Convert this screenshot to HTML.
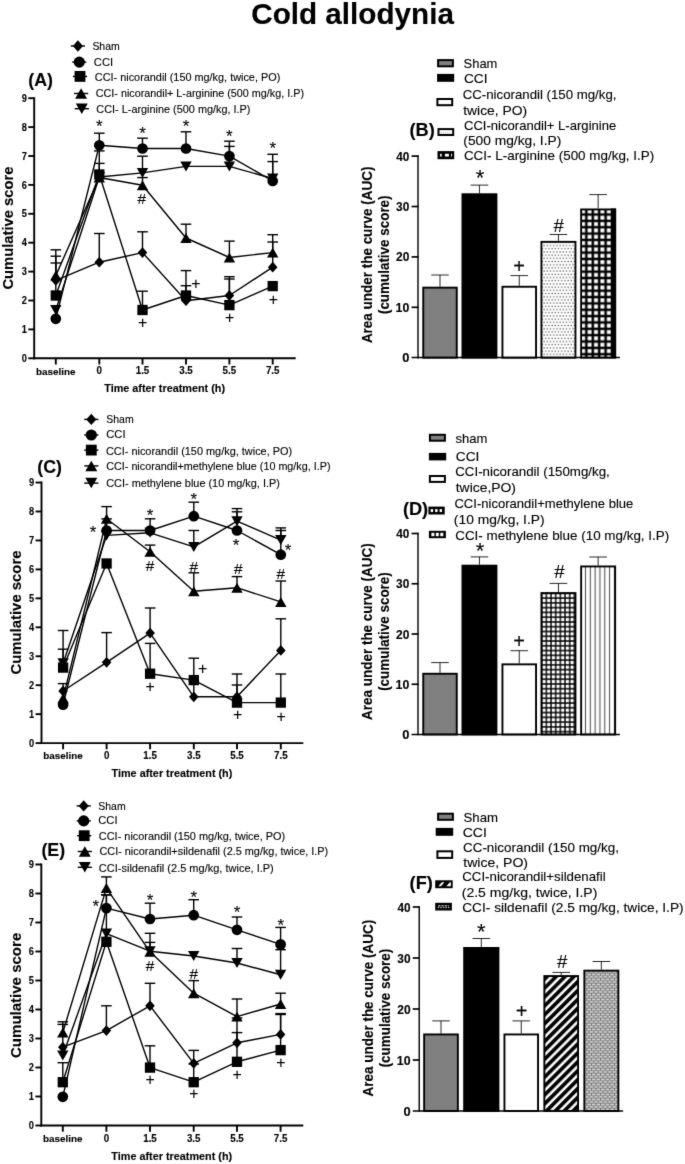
<!DOCTYPE html>
<html lang="en"><head><meta charset="utf-8"><title>Cold allodynia</title>
<style>
html,body{margin:0;padding:0;background:#fff;}
body{width:685px;height:1164px;overflow:hidden;font-family:"Liberation Sans",sans-serif;}
svg{display:block;}
svg text{font-family:"Liberation Sans",sans-serif;fill:#000;stroke:#000;stroke-width:0.12px;}
</style></head><body>
<svg width="685" height="1164" viewBox="0 0 685 1164">
<defs>
<pattern id="pDot" width="3.2" height="6.4" patternUnits="userSpaceOnUse" x="543.2" y="244.6"><rect width="3.2" height="6.4" fill="#fff"/><rect x="0.3" y="0.3" width="1.3" height="1.2" fill="#555"/><rect x="1.9" y="3.5" width="1.3" height="1.2" fill="#555"/></pattern>
<pattern id="pGrid" width="6.42" height="6.35" patternUnits="userSpaceOnUse" x="586.35" y="214.52"><rect width="6.42" height="6.35" fill="#000"/><rect x="1.26" y="1.22" width="3.9" height="3.9" fill="#fff"/></pattern>
<pattern id="pHatch" width="4.67" height="4.77" patternUnits="userSpaceOnUse" x="546.36" y="598.1"><rect width="4.67" height="4.77" fill="#000"/><rect x="0.7" y="0.75" width="3.27" height="3.27" fill="#fff"/></pattern>
<pattern id="pVert" width="4.82" height="8" patternUnits="userSpaceOnUse" x="583.09" y="0"><rect width="4.82" height="8" fill="#fff"/><rect x="1.85" width="1.1" height="8" fill="#555"/></pattern>
<pattern id="pDiag" width="6.3" height="6.3" patternUnits="userSpaceOnUse" patternTransform="rotate(-45)"><rect width="6.3" height="6.3" fill="#000"/><rect y="2.0" width="6.3" height="2.6" fill="#fff"/></pattern>
<pattern id="pBrick" width="4.6" height="5.0" patternUnits="userSpaceOnUse" x="584.5" y="970.6"><rect width="4.6" height="5.0" fill="#6a6a6a"/><rect x="0.5" y="0.6" width="3.6" height="1.3" fill="#fff"/><rect x="-1.8" y="3.1" width="3.6" height="1.3" fill="#fff"/><rect x="2.8" y="3.1" width="3.6" height="1.3" fill="#fff"/></pattern>
</defs>
<filter id="soft" x="0" y="0" width="685" height="1164" filterUnits="userSpaceOnUse" color-interpolation-filters="sRGB"><feConvolveMatrix order="3" kernelMatrix="0.0100 0.0800 0.0100 0.0800 0.6400 0.0800 0.0100 0.0800 0.0100" divisor="1" edgeMode="duplicate" preserveAlpha="true"/></filter>
<rect width="685" height="1164" fill="#fff"/>
<g filter="url(#soft)">
<rect width="685" height="1164" fill="#fff"/>

<text x="251.21" y="24.00" font-size="29.4" font-weight="bold" textLength="202.79" lengthAdjust="spacingAndGlyphs">Cold allodynia</text>
<line x1="34.20" y1="97.25" x2="34.20" y2="359.25" stroke="#000" stroke-width="1.9"/>
<line x1="33.25" y1="358.30" x2="295.70" y2="358.30" stroke="#000" stroke-width="1.9"/>
<line x1="28.30" y1="358.30" x2="34.20" y2="358.30" stroke="#000" stroke-width="1.9"/>
<text x="21.75" y="361.95" font-size="10.9" font-weight="bold" textLength="5.15" lengthAdjust="spacingAndGlyphs">0</text>
<line x1="28.30" y1="329.40" x2="34.20" y2="329.40" stroke="#000" stroke-width="1.9"/>
<text x="21.75" y="333.05" font-size="10.9" font-weight="bold" textLength="5.15" lengthAdjust="spacingAndGlyphs">1</text>
<line x1="28.30" y1="300.50" x2="34.20" y2="300.50" stroke="#000" stroke-width="1.9"/>
<text x="21.75" y="304.15" font-size="10.9" font-weight="bold" textLength="5.15" lengthAdjust="spacingAndGlyphs">2</text>
<line x1="28.30" y1="271.60" x2="34.20" y2="271.60" stroke="#000" stroke-width="1.9"/>
<text x="21.75" y="275.25" font-size="10.9" font-weight="bold" textLength="5.15" lengthAdjust="spacingAndGlyphs">3</text>
<line x1="28.30" y1="242.70" x2="34.20" y2="242.70" stroke="#000" stroke-width="1.9"/>
<text x="21.75" y="246.35" font-size="10.9" font-weight="bold" textLength="5.15" lengthAdjust="spacingAndGlyphs">4</text>
<line x1="28.30" y1="213.80" x2="34.20" y2="213.80" stroke="#000" stroke-width="1.9"/>
<text x="21.75" y="217.45" font-size="10.9" font-weight="bold" textLength="5.15" lengthAdjust="spacingAndGlyphs">5</text>
<line x1="28.30" y1="184.90" x2="34.20" y2="184.90" stroke="#000" stroke-width="1.9"/>
<text x="21.75" y="188.55" font-size="10.9" font-weight="bold" textLength="5.15" lengthAdjust="spacingAndGlyphs">6</text>
<line x1="28.30" y1="156.00" x2="34.20" y2="156.00" stroke="#000" stroke-width="1.9"/>
<text x="21.75" y="159.65" font-size="10.9" font-weight="bold" textLength="5.15" lengthAdjust="spacingAndGlyphs">7</text>
<line x1="28.30" y1="127.10" x2="34.20" y2="127.10" stroke="#000" stroke-width="1.9"/>
<text x="21.75" y="130.75" font-size="10.9" font-weight="bold" textLength="5.15" lengthAdjust="spacingAndGlyphs">8</text>
<line x1="28.30" y1="98.20" x2="34.20" y2="98.20" stroke="#000" stroke-width="1.9"/>
<text x="21.75" y="101.85" font-size="10.9" font-weight="bold" textLength="5.15" lengthAdjust="spacingAndGlyphs">9</text>
<line x1="55.80" y1="358.30" x2="55.80" y2="364.50" stroke="#000" stroke-width="1.9"/>
<text x="55.80" y="374.50" font-size="9.9" font-weight="bold" text-anchor="middle">baseline</text>
<line x1="99.30" y1="358.30" x2="99.30" y2="364.50" stroke="#000" stroke-width="1.9"/>
<text x="96.58" y="374.40" font-size="10.4" font-weight="bold" textLength="5.44" lengthAdjust="spacingAndGlyphs">0</text>
<line x1="142.50" y1="358.30" x2="142.50" y2="364.50" stroke="#000" stroke-width="1.9"/>
<text x="135.71" y="374.40" font-size="10.4" font-weight="bold" textLength="13.59" lengthAdjust="spacingAndGlyphs">1.5</text>
<line x1="186.00" y1="358.30" x2="186.00" y2="364.50" stroke="#000" stroke-width="1.9"/>
<text x="179.21" y="374.40" font-size="10.4" font-weight="bold" textLength="13.59" lengthAdjust="spacingAndGlyphs">3.5</text>
<line x1="229.40" y1="358.30" x2="229.40" y2="364.50" stroke="#000" stroke-width="1.9"/>
<text x="222.61" y="374.40" font-size="10.4" font-weight="bold" textLength="13.59" lengthAdjust="spacingAndGlyphs">5.5</text>
<line x1="272.70" y1="358.30" x2="272.70" y2="364.50" stroke="#000" stroke-width="1.9"/>
<text x="265.91" y="374.40" font-size="10.4" font-weight="bold" textLength="13.59" lengthAdjust="spacingAndGlyphs">7.5</text>
<text x="104.24" y="392.30" font-size="11.0" font-weight="bold" textLength="120.80" lengthAdjust="spacingAndGlyphs" stroke-width="0.3">Time after treatment (h)</text>
<text transform="translate(13.40 289.59) rotate(-90)" x="0" y="0" font-size="15.0" font-weight="bold" textLength="122.92" lengthAdjust="spacingAndGlyphs" stroke-width="0.3">Cumulative score</text>
<text x="40.60" y="85.80" font-size="17.8" font-weight="bold" text-anchor="middle">(A)</text>
<line x1="70.80" y1="46.00" x2="85.00" y2="46.00" stroke="#000" stroke-width="1.4"/>
<path d="M77.90 40.33L82.94 46.00L77.90 51.67L72.86 46.00Z"/>
<text x="92.38" y="49.80" font-size="11.1" textLength="27.38" lengthAdjust="spacingAndGlyphs">Sham</text>
<line x1="72.20" y1="62.10" x2="86.40" y2="62.10" stroke="#000" stroke-width="1.4"/>
<circle cx="79.30" cy="62.10" r="5.62"/>
<text x="93.84" y="65.70" font-size="11.1" textLength="19.29" lengthAdjust="spacingAndGlyphs">CCI</text>
<line x1="72.90" y1="76.40" x2="87.10" y2="76.40" stroke="#000" stroke-width="1.4"/>
<rect x="74.59" y="70.99" width="10.82" height="10.82"/>
<text x="94.86" y="80.50" font-size="11.1" textLength="185.40" lengthAdjust="spacingAndGlyphs">CCI- nicorandil (150 mg/kg, twice, PO)</text>
<line x1="74.00" y1="93.50" x2="88.20" y2="93.50" stroke="#000" stroke-width="1.4"/>
<path d="M81.10 88.25L87.08 98.75L75.11 98.75Z"/>
<text x="95.76" y="97.30" font-size="11.1" textLength="208.22" lengthAdjust="spacingAndGlyphs">CCI- nicorandil+ L-arginine (500 mg/kg, I.P)</text>
<line x1="74.70" y1="108.70" x2="88.90" y2="108.70" stroke="#000" stroke-width="1.4"/>
<path d="M81.80 113.95L87.78 103.45L75.81 103.45Z"/>
<text x="96.36" y="112.80" font-size="11.1" textLength="154.11" lengthAdjust="spacingAndGlyphs">CCI- L-arginine (500 mg/kg, I.P)</text>
<path d="M55.80 280.30 L99.30 262.20 L142.50 252.60 L186.00 300.70 L229.40 295.50 L272.70 267.20" fill="none" stroke="#000" stroke-width="1.4" stroke-linejoin="round"/>
<line x1="55.80" y1="280.30" x2="55.80" y2="249.80" stroke="#000" stroke-width="1.4"/>
<line x1="50.50" y1="249.80" x2="61.10" y2="249.80" stroke="#000" stroke-width="1.4"/>
<line x1="99.30" y1="262.20" x2="99.30" y2="233.50" stroke="#000" stroke-width="1.4"/>
<line x1="94.00" y1="233.50" x2="104.60" y2="233.50" stroke="#000" stroke-width="1.4"/>
<line x1="142.50" y1="252.60" x2="142.50" y2="231.80" stroke="#000" stroke-width="1.4"/>
<line x1="137.20" y1="231.80" x2="147.80" y2="231.80" stroke="#000" stroke-width="1.4"/>
<line x1="186.00" y1="300.70" x2="186.00" y2="285.70" stroke="#000" stroke-width="1.4"/>
<line x1="180.70" y1="285.70" x2="191.30" y2="285.70" stroke="#000" stroke-width="1.4"/>
<line x1="229.40" y1="295.50" x2="229.40" y2="279.00" stroke="#000" stroke-width="1.4"/>
<line x1="224.10" y1="279.00" x2="234.70" y2="279.00" stroke="#000" stroke-width="1.4"/>
<line x1="272.70" y1="267.20" x2="272.70" y2="242.00" stroke="#000" stroke-width="1.4"/>
<line x1="267.40" y1="242.00" x2="278.00" y2="242.00" stroke="#000" stroke-width="1.4"/>
<path d="M55.80 274.90L60.60 280.30L55.80 285.70L51.00 280.30Z"/>
<path d="M99.30 256.80L104.10 262.20L99.30 267.60L94.50 262.20Z"/>
<path d="M142.50 247.20L147.30 252.60L142.50 258.00L137.70 252.60Z"/>
<path d="M186.00 295.30L190.80 300.70L186.00 306.10L181.20 300.70Z"/>
<path d="M229.40 290.10L234.20 295.50L229.40 300.90L224.60 295.50Z"/>
<path d="M272.70 261.80L277.50 267.20L272.70 272.60L267.90 267.20Z"/>
<path d="M55.80 318.80 L99.30 145.30 L142.50 148.50 L186.00 148.50 L229.40 156.10 L272.70 181.00" fill="none" stroke="#000" stroke-width="1.4" stroke-linejoin="round"/>
<line x1="99.30" y1="145.30" x2="99.30" y2="133.20" stroke="#000" stroke-width="1.4"/>
<line x1="94.00" y1="133.20" x2="104.60" y2="133.20" stroke="#000" stroke-width="1.4"/>
<line x1="142.50" y1="148.50" x2="142.50" y2="138.20" stroke="#000" stroke-width="1.4"/>
<line x1="137.20" y1="138.20" x2="147.80" y2="138.20" stroke="#000" stroke-width="1.4"/>
<line x1="186.00" y1="148.50" x2="186.00" y2="131.80" stroke="#000" stroke-width="1.4"/>
<line x1="180.70" y1="131.80" x2="191.30" y2="131.80" stroke="#000" stroke-width="1.4"/>
<line x1="229.40" y1="156.10" x2="229.40" y2="141.20" stroke="#000" stroke-width="1.4"/>
<line x1="224.10" y1="141.20" x2="234.70" y2="141.20" stroke="#000" stroke-width="1.4"/>
<line x1="272.70" y1="181.00" x2="272.70" y2="154.30" stroke="#000" stroke-width="1.4"/>
<line x1="267.40" y1="154.30" x2="278.00" y2="154.30" stroke="#000" stroke-width="1.4"/>
<circle cx="55.80" cy="318.80" r="5.35"/>
<circle cx="99.30" cy="145.30" r="5.35"/>
<circle cx="142.50" cy="148.50" r="5.35"/>
<circle cx="186.00" cy="148.50" r="5.35"/>
<circle cx="229.40" cy="156.10" r="5.35"/>
<circle cx="272.70" cy="181.00" r="5.35"/>
<path d="M55.80 295.50 L99.30 174.50 L142.50 310.00 L186.00 295.50 L229.40 305.10 L272.70 286.10" fill="none" stroke="#000" stroke-width="1.4" stroke-linejoin="round"/>
<line x1="55.80" y1="295.50" x2="55.80" y2="263.00" stroke="#000" stroke-width="1.4"/>
<line x1="50.50" y1="263.00" x2="61.10" y2="263.00" stroke="#000" stroke-width="1.4"/>
<line x1="99.30" y1="174.50" x2="99.30" y2="163.40" stroke="#000" stroke-width="1.4"/>
<line x1="94.00" y1="163.40" x2="104.60" y2="163.40" stroke="#000" stroke-width="1.4"/>
<line x1="142.50" y1="310.00" x2="142.50" y2="291.20" stroke="#000" stroke-width="1.4"/>
<line x1="137.20" y1="291.20" x2="147.80" y2="291.20" stroke="#000" stroke-width="1.4"/>
<line x1="186.00" y1="295.50" x2="186.00" y2="270.60" stroke="#000" stroke-width="1.4"/>
<line x1="180.70" y1="270.60" x2="191.30" y2="270.60" stroke="#000" stroke-width="1.4"/>
<line x1="229.40" y1="305.10" x2="229.40" y2="276.70" stroke="#000" stroke-width="1.4"/>
<line x1="224.10" y1="276.70" x2="234.70" y2="276.70" stroke="#000" stroke-width="1.4"/>
<rect x="50.65" y="290.35" width="10.30" height="10.30"/>
<rect x="94.15" y="169.35" width="10.30" height="10.30"/>
<rect x="137.35" y="304.85" width="10.30" height="10.30"/>
<rect x="180.85" y="290.35" width="10.30" height="10.30"/>
<rect x="224.25" y="299.95" width="10.30" height="10.30"/>
<rect x="267.55" y="280.95" width="10.30" height="10.30"/>
<path d="M55.80 275.60 L99.30 177.50 L142.50 185.30 L186.00 238.00 L229.40 257.50 L272.70 252.60" fill="none" stroke="#000" stroke-width="1.4" stroke-linejoin="round"/>
<line x1="55.80" y1="275.60" x2="55.80" y2="256.20" stroke="#000" stroke-width="1.4"/>
<line x1="50.50" y1="256.20" x2="61.10" y2="256.20" stroke="#000" stroke-width="1.4"/>
<line x1="142.50" y1="185.30" x2="142.50" y2="177.60" stroke="#000" stroke-width="1.4"/>
<line x1="137.20" y1="177.60" x2="147.80" y2="177.60" stroke="#000" stroke-width="1.4"/>
<line x1="186.00" y1="238.00" x2="186.00" y2="224.20" stroke="#000" stroke-width="1.4"/>
<line x1="180.70" y1="224.20" x2="191.30" y2="224.20" stroke="#000" stroke-width="1.4"/>
<line x1="229.40" y1="257.50" x2="229.40" y2="241.10" stroke="#000" stroke-width="1.4"/>
<line x1="224.10" y1="241.10" x2="234.70" y2="241.10" stroke="#000" stroke-width="1.4"/>
<line x1="272.70" y1="252.60" x2="272.70" y2="234.70" stroke="#000" stroke-width="1.4"/>
<line x1="267.40" y1="234.70" x2="278.00" y2="234.70" stroke="#000" stroke-width="1.4"/>
<path d="M55.80 270.60L61.50 280.60L50.10 280.60Z"/>
<path d="M99.30 172.50L105.00 182.50L93.60 182.50Z"/>
<path d="M142.50 180.30L148.20 190.30L136.80 190.30Z"/>
<path d="M186.00 233.00L191.70 243.00L180.30 243.00Z"/>
<path d="M229.40 252.50L235.10 262.50L223.70 262.50Z"/>
<path d="M272.70 247.60L278.40 257.60L267.00 257.60Z"/>
<path d="M55.80 310.00 L99.30 177.00 L142.50 172.90 L186.00 166.40 L229.40 166.40 L272.70 178.50" fill="none" stroke="#000" stroke-width="1.4" stroke-linejoin="round"/>
<line x1="99.30" y1="177.00" x2="99.30" y2="150.90" stroke="#000" stroke-width="1.4"/>
<line x1="94.00" y1="150.90" x2="104.60" y2="150.90" stroke="#000" stroke-width="1.4"/>
<line x1="142.50" y1="172.90" x2="142.50" y2="156.20" stroke="#000" stroke-width="1.4"/>
<line x1="137.20" y1="156.20" x2="147.80" y2="156.20" stroke="#000" stroke-width="1.4"/>
<line x1="229.40" y1="166.40" x2="229.40" y2="146.40" stroke="#000" stroke-width="1.4"/>
<line x1="224.10" y1="146.40" x2="234.70" y2="146.40" stroke="#000" stroke-width="1.4"/>
<line x1="272.70" y1="178.50" x2="272.70" y2="161.60" stroke="#000" stroke-width="1.4"/>
<line x1="267.40" y1="161.60" x2="278.00" y2="161.60" stroke="#000" stroke-width="1.4"/>
<path d="M55.80 315.00L61.50 305.00L50.10 305.00Z"/>
<path d="M99.30 182.00L105.00 172.00L93.60 172.00Z"/>
<path d="M142.50 177.90L148.20 167.90L136.80 167.90Z"/>
<path d="M186.00 171.40L191.70 161.40L180.30 161.40Z"/>
<path d="M229.40 171.40L235.10 161.40L223.70 161.40Z"/>
<path d="M272.70 183.50L278.40 173.50L267.00 173.50Z"/>
<text x="99.30" y="132.46" font-size="17" text-anchor="middle" stroke="#000" stroke-width="0.5">*</text>
<text x="142.50" y="139.06" font-size="17" text-anchor="middle" stroke="#000" stroke-width="0.5">*</text>
<text x="186.00" y="132.46" font-size="17" text-anchor="middle" stroke="#000" stroke-width="0.5">*</text>
<text x="229.40" y="141.86" font-size="17" text-anchor="middle" stroke="#000" stroke-width="0.5">*</text>
<text x="272.70" y="153.56" font-size="17" text-anchor="middle" stroke="#000" stroke-width="0.5">*</text>
<text x="141.90" y="204.48" font-size="15.4" text-anchor="middle" stroke="#000" stroke-width="0.4">#</text>
<text x="142.50" y="328.29" font-size="15.8" text-anchor="middle" stroke="#000" stroke-width="0.45">+</text>
<text x="195.80" y="289.09" font-size="15.8" text-anchor="middle" stroke="#000" stroke-width="0.45">+</text>
<text x="229.60" y="323.49" font-size="15.8" text-anchor="middle" stroke="#000" stroke-width="0.45">+</text>
<text x="273.40" y="305.29" font-size="15.8" text-anchor="middle" stroke="#000" stroke-width="0.45">+</text>
<line x1="41.50" y1="481.60" x2="41.50" y2="744.05" stroke="#000" stroke-width="1.9"/>
<line x1="40.55" y1="743.10" x2="303.30" y2="743.10" stroke="#000" stroke-width="1.9"/>
<line x1="35.60" y1="743.10" x2="41.50" y2="743.10" stroke="#000" stroke-width="1.9"/>
<text x="29.05" y="746.75" font-size="10.9" font-weight="bold" textLength="5.15" lengthAdjust="spacingAndGlyphs">0</text>
<line x1="35.60" y1="714.15" x2="41.50" y2="714.15" stroke="#000" stroke-width="1.9"/>
<text x="29.05" y="717.80" font-size="10.9" font-weight="bold" textLength="5.15" lengthAdjust="spacingAndGlyphs">1</text>
<line x1="35.60" y1="685.20" x2="41.50" y2="685.20" stroke="#000" stroke-width="1.9"/>
<text x="29.05" y="688.85" font-size="10.9" font-weight="bold" textLength="5.15" lengthAdjust="spacingAndGlyphs">2</text>
<line x1="35.60" y1="656.25" x2="41.50" y2="656.25" stroke="#000" stroke-width="1.9"/>
<text x="29.05" y="659.90" font-size="10.9" font-weight="bold" textLength="5.15" lengthAdjust="spacingAndGlyphs">3</text>
<line x1="35.60" y1="627.30" x2="41.50" y2="627.30" stroke="#000" stroke-width="1.9"/>
<text x="29.05" y="630.95" font-size="10.9" font-weight="bold" textLength="5.15" lengthAdjust="spacingAndGlyphs">4</text>
<line x1="35.60" y1="598.35" x2="41.50" y2="598.35" stroke="#000" stroke-width="1.9"/>
<text x="29.05" y="602.00" font-size="10.9" font-weight="bold" textLength="5.15" lengthAdjust="spacingAndGlyphs">5</text>
<line x1="35.60" y1="569.40" x2="41.50" y2="569.40" stroke="#000" stroke-width="1.9"/>
<text x="29.05" y="573.05" font-size="10.9" font-weight="bold" textLength="5.15" lengthAdjust="spacingAndGlyphs">6</text>
<line x1="35.60" y1="540.45" x2="41.50" y2="540.45" stroke="#000" stroke-width="1.9"/>
<text x="29.05" y="544.10" font-size="10.9" font-weight="bold" textLength="5.15" lengthAdjust="spacingAndGlyphs">7</text>
<line x1="35.60" y1="511.50" x2="41.50" y2="511.50" stroke="#000" stroke-width="1.9"/>
<text x="29.05" y="515.15" font-size="10.9" font-weight="bold" textLength="5.15" lengthAdjust="spacingAndGlyphs">8</text>
<line x1="35.60" y1="482.55" x2="41.50" y2="482.55" stroke="#000" stroke-width="1.9"/>
<text x="29.05" y="486.20" font-size="10.9" font-weight="bold" textLength="5.15" lengthAdjust="spacingAndGlyphs">9</text>
<line x1="63.10" y1="743.10" x2="63.10" y2="749.30" stroke="#000" stroke-width="1.9"/>
<text x="63.10" y="759.30" font-size="9.9" font-weight="bold" text-anchor="middle">baseline</text>
<line x1="106.60" y1="743.10" x2="106.60" y2="749.30" stroke="#000" stroke-width="1.9"/>
<text x="103.88" y="759.20" font-size="10.4" font-weight="bold" textLength="5.44" lengthAdjust="spacingAndGlyphs">0</text>
<line x1="150.10" y1="743.10" x2="150.10" y2="749.30" stroke="#000" stroke-width="1.9"/>
<text x="143.31" y="759.20" font-size="10.4" font-weight="bold" textLength="13.59" lengthAdjust="spacingAndGlyphs">1.5</text>
<line x1="193.80" y1="743.10" x2="193.80" y2="749.30" stroke="#000" stroke-width="1.9"/>
<text x="187.01" y="759.20" font-size="10.4" font-weight="bold" textLength="13.59" lengthAdjust="spacingAndGlyphs">3.5</text>
<line x1="237.00" y1="743.10" x2="237.00" y2="749.30" stroke="#000" stroke-width="1.9"/>
<text x="230.21" y="759.20" font-size="10.4" font-weight="bold" textLength="13.59" lengthAdjust="spacingAndGlyphs">5.5</text>
<line x1="280.80" y1="743.10" x2="280.80" y2="749.30" stroke="#000" stroke-width="1.9"/>
<text x="274.01" y="759.20" font-size="10.4" font-weight="bold" textLength="13.59" lengthAdjust="spacingAndGlyphs">7.5</text>
<text x="111.54" y="777.10" font-size="11.0" font-weight="bold" textLength="120.80" lengthAdjust="spacingAndGlyphs" stroke-width="0.3">Time after treatment (h)</text>
<text transform="translate(21.40 674.60) rotate(-90)" x="0" y="0" font-size="15.0" font-weight="bold" textLength="124.13" lengthAdjust="spacingAndGlyphs" stroke-width="0.3">Cumulative score</text>
<text x="49.60" y="472.80" font-size="17.8" font-weight="bold" text-anchor="middle">(C)</text>
<line x1="84.20" y1="419.40" x2="98.40" y2="419.40" stroke="#000" stroke-width="1.4"/>
<path d="M91.30 413.73L96.34 419.40L91.30 425.07L86.26 419.40Z"/>
<text x="106.28" y="423.20" font-size="11.1" textLength="27.38" lengthAdjust="spacingAndGlyphs">Sham</text>
<line x1="84.20" y1="435.00" x2="98.40" y2="435.00" stroke="#000" stroke-width="1.4"/>
<circle cx="91.30" cy="435.00" r="5.62"/>
<text x="106.24" y="438.40" font-size="11.1" textLength="19.29" lengthAdjust="spacingAndGlyphs">CCI</text>
<line x1="84.20" y1="450.10" x2="98.40" y2="450.10" stroke="#000" stroke-width="1.4"/>
<rect x="85.89" y="444.69" width="10.82" height="10.82"/>
<text x="105.95" y="454.50" font-size="11.1" textLength="186.20" lengthAdjust="spacingAndGlyphs">CCI- nicorandil (150 mg/kg, twice, PO)</text>
<line x1="84.20" y1="465.90" x2="98.40" y2="465.90" stroke="#000" stroke-width="1.4"/>
<path d="M91.30 460.65L97.28 471.15L85.31 471.15Z"/>
<text x="106.26" y="469.70" font-size="11.1" textLength="224.23" lengthAdjust="spacingAndGlyphs">CCI- nicorandil+methylene blue (10 mg/kg, I.P)</text>
<line x1="84.20" y1="483.10" x2="98.40" y2="483.10" stroke="#000" stroke-width="1.4"/>
<path d="M91.30 488.35L97.28 477.85L85.31 477.85Z"/>
<text x="106.26" y="486.80" font-size="11.1" textLength="173.59" lengthAdjust="spacingAndGlyphs">CCI- methylene blue (10 mg/kg, I.P)</text>
<path d="M63.10 691.00 L106.60 662.30 L150.10 633.10 L193.80 696.80 L237.00 696.80 L280.80 650.40" fill="none" stroke="#000" stroke-width="1.4" stroke-linejoin="round"/>
<line x1="63.10" y1="691.00" x2="63.10" y2="683.60" stroke="#000" stroke-width="1.4"/>
<line x1="57.80" y1="683.60" x2="68.40" y2="683.60" stroke="#000" stroke-width="1.4"/>
<line x1="106.60" y1="662.30" x2="106.60" y2="632.60" stroke="#000" stroke-width="1.4"/>
<line x1="101.30" y1="632.60" x2="111.90" y2="632.60" stroke="#000" stroke-width="1.4"/>
<line x1="150.10" y1="633.10" x2="150.10" y2="608.00" stroke="#000" stroke-width="1.4"/>
<line x1="144.80" y1="608.00" x2="155.40" y2="608.00" stroke="#000" stroke-width="1.4"/>
<line x1="193.80" y1="696.80" x2="193.80" y2="681.00" stroke="#000" stroke-width="1.4"/>
<line x1="188.50" y1="681.00" x2="199.10" y2="681.00" stroke="#000" stroke-width="1.4"/>
<line x1="237.00" y1="696.80" x2="237.00" y2="685.00" stroke="#000" stroke-width="1.4"/>
<line x1="231.70" y1="685.00" x2="242.30" y2="685.00" stroke="#000" stroke-width="1.4"/>
<line x1="280.80" y1="650.40" x2="280.80" y2="618.80" stroke="#000" stroke-width="1.4"/>
<line x1="275.50" y1="618.80" x2="286.10" y2="618.80" stroke="#000" stroke-width="1.4"/>
<path d="M63.10 685.60L67.90 691.00L63.10 696.40L58.30 691.00Z"/>
<path d="M106.60 656.90L111.40 662.30L106.60 667.70L101.80 662.30Z"/>
<path d="M150.10 627.70L154.90 633.10L150.10 638.50L145.30 633.10Z"/>
<path d="M193.80 691.40L198.60 696.80L193.80 702.20L189.00 696.80Z"/>
<path d="M237.00 691.40L241.80 696.80L237.00 702.20L232.20 696.80Z"/>
<path d="M280.80 645.00L285.60 650.40L280.80 655.80L276.00 650.40Z"/>
<path d="M63.10 704.70 L106.60 530.50 L150.10 530.50 L193.80 516.20 L237.00 530.50 L280.80 554.70" fill="none" stroke="#000" stroke-width="1.4" stroke-linejoin="round"/>
<line x1="106.60" y1="530.50" x2="106.60" y2="518.90" stroke="#000" stroke-width="1.4"/>
<line x1="101.30" y1="518.90" x2="111.90" y2="518.90" stroke="#000" stroke-width="1.4"/>
<line x1="150.10" y1="530.50" x2="150.10" y2="518.80" stroke="#000" stroke-width="1.4"/>
<line x1="144.80" y1="518.80" x2="155.40" y2="518.80" stroke="#000" stroke-width="1.4"/>
<line x1="193.80" y1="516.20" x2="193.80" y2="502.20" stroke="#000" stroke-width="1.4"/>
<line x1="188.50" y1="502.20" x2="199.10" y2="502.20" stroke="#000" stroke-width="1.4"/>
<line x1="237.00" y1="530.50" x2="237.00" y2="511.80" stroke="#000" stroke-width="1.4"/>
<line x1="231.70" y1="511.80" x2="242.30" y2="511.80" stroke="#000" stroke-width="1.4"/>
<line x1="280.80" y1="554.70" x2="280.80" y2="530.50" stroke="#000" stroke-width="1.4"/>
<line x1="275.50" y1="530.50" x2="286.10" y2="530.50" stroke="#000" stroke-width="1.4"/>
<circle cx="63.10" cy="704.70" r="5.35"/>
<circle cx="106.60" cy="530.50" r="5.35"/>
<circle cx="150.10" cy="530.50" r="5.35"/>
<circle cx="193.80" cy="516.20" r="5.35"/>
<circle cx="237.00" cy="530.50" r="5.35"/>
<circle cx="280.80" cy="554.70" r="5.35"/>
<path d="M63.10 667.60 L106.60 563.50 L150.10 673.70 L193.80 680.10 L237.00 702.60 L280.80 702.60" fill="none" stroke="#000" stroke-width="1.4" stroke-linejoin="round"/>
<line x1="63.10" y1="667.60" x2="63.10" y2="630.50" stroke="#000" stroke-width="1.4"/>
<line x1="57.80" y1="630.50" x2="68.40" y2="630.50" stroke="#000" stroke-width="1.4"/>
<line x1="150.10" y1="673.70" x2="150.10" y2="643.40" stroke="#000" stroke-width="1.4"/>
<line x1="144.80" y1="643.40" x2="155.40" y2="643.40" stroke="#000" stroke-width="1.4"/>
<line x1="193.80" y1="680.10" x2="193.80" y2="658.20" stroke="#000" stroke-width="1.4"/>
<line x1="188.50" y1="658.20" x2="199.10" y2="658.20" stroke="#000" stroke-width="1.4"/>
<line x1="237.00" y1="702.60" x2="237.00" y2="674.00" stroke="#000" stroke-width="1.4"/>
<line x1="231.70" y1="674.00" x2="242.30" y2="674.00" stroke="#000" stroke-width="1.4"/>
<line x1="280.80" y1="702.60" x2="280.80" y2="674.00" stroke="#000" stroke-width="1.4"/>
<line x1="275.50" y1="674.00" x2="286.10" y2="674.00" stroke="#000" stroke-width="1.4"/>
<rect x="57.95" y="662.45" width="10.30" height="10.30"/>
<rect x="101.45" y="558.35" width="10.30" height="10.30"/>
<rect x="144.95" y="668.55" width="10.30" height="10.30"/>
<rect x="188.65" y="674.95" width="10.30" height="10.30"/>
<rect x="231.85" y="697.45" width="10.30" height="10.30"/>
<rect x="275.65" y="697.45" width="10.30" height="10.30"/>
<path d="M63.10 698.30 L106.60 518.80 L150.10 551.80 L193.80 591.20 L237.00 587.70 L280.80 601.90" fill="none" stroke="#000" stroke-width="1.4" stroke-linejoin="round"/>
<line x1="106.60" y1="518.80" x2="106.60" y2="506.60" stroke="#000" stroke-width="1.4"/>
<line x1="101.30" y1="506.60" x2="111.90" y2="506.60" stroke="#000" stroke-width="1.4"/>
<line x1="150.10" y1="551.80" x2="150.10" y2="545.10" stroke="#000" stroke-width="1.4"/>
<line x1="144.80" y1="545.10" x2="155.40" y2="545.10" stroke="#000" stroke-width="1.4"/>
<line x1="193.80" y1="591.20" x2="193.80" y2="572.80" stroke="#000" stroke-width="1.4"/>
<line x1="188.50" y1="572.80" x2="199.10" y2="572.80" stroke="#000" stroke-width="1.4"/>
<line x1="237.00" y1="587.70" x2="237.00" y2="576.60" stroke="#000" stroke-width="1.4"/>
<line x1="231.70" y1="576.60" x2="242.30" y2="576.60" stroke="#000" stroke-width="1.4"/>
<line x1="280.80" y1="601.90" x2="280.80" y2="581.00" stroke="#000" stroke-width="1.4"/>
<line x1="275.50" y1="581.00" x2="286.10" y2="581.00" stroke="#000" stroke-width="1.4"/>
<path d="M63.10 693.30L68.80 703.30L57.40 703.30Z"/>
<path d="M106.60 513.80L112.30 523.80L100.90 523.80Z"/>
<path d="M150.10 546.80L155.80 556.80L144.40 556.80Z"/>
<path d="M193.80 586.20L199.50 596.20L188.10 596.20Z"/>
<path d="M237.00 582.70L242.70 592.70L231.30 592.70Z"/>
<path d="M280.80 596.90L286.50 606.90L275.10 606.90Z"/>
<path d="M63.10 663.20 L106.60 535.40 L150.10 532.80 L193.80 546.90 L237.00 521.20 L280.80 540.10" fill="none" stroke="#000" stroke-width="1.4" stroke-linejoin="round"/>
<line x1="63.10" y1="663.20" x2="63.10" y2="649.20" stroke="#000" stroke-width="1.4"/>
<line x1="57.80" y1="649.20" x2="68.40" y2="649.20" stroke="#000" stroke-width="1.4"/>
<line x1="193.80" y1="546.90" x2="193.80" y2="530.50" stroke="#000" stroke-width="1.4"/>
<line x1="188.50" y1="530.50" x2="199.10" y2="530.50" stroke="#000" stroke-width="1.4"/>
<line x1="237.00" y1="521.20" x2="237.00" y2="508.60" stroke="#000" stroke-width="1.4"/>
<line x1="231.70" y1="508.60" x2="242.30" y2="508.60" stroke="#000" stroke-width="1.4"/>
<line x1="280.80" y1="540.10" x2="280.80" y2="527.90" stroke="#000" stroke-width="1.4"/>
<line x1="275.50" y1="527.90" x2="286.10" y2="527.90" stroke="#000" stroke-width="1.4"/>
<path d="M63.10 668.20L68.80 658.20L57.40 658.20Z"/>
<path d="M106.60 540.40L112.30 530.40L100.90 530.40Z"/>
<path d="M150.10 537.80L155.80 527.80L144.40 527.80Z"/>
<path d="M193.80 551.90L199.50 541.90L188.10 541.90Z"/>
<path d="M237.00 526.20L242.70 516.20L231.30 516.20Z"/>
<path d="M280.80 545.10L286.50 535.10L275.10 535.10Z"/>
<text x="93.10" y="538.35" font-size="17" text-anchor="middle" stroke="#000" stroke-width="0.5">*</text>
<text x="150.10" y="521.45" font-size="17" text-anchor="middle" stroke="#000" stroke-width="0.5">*</text>
<text x="193.80" y="504.86" font-size="17" text-anchor="middle" stroke="#000" stroke-width="0.5">*</text>
<text x="236.10" y="551.25" font-size="17" text-anchor="middle" stroke="#000" stroke-width="0.5">*</text>
<text x="288.10" y="555.65" font-size="17" text-anchor="middle" stroke="#000" stroke-width="0.5">*</text>
<text x="150.10" y="570.78" font-size="15.4" text-anchor="middle" stroke="#000" stroke-width="0.4">#</text>
<text x="193.80" y="571.68" font-size="15.4" text-anchor="middle" stroke="#000" stroke-width="0.4">#</text>
<text x="238.20" y="574.08" font-size="15.4" text-anchor="middle" stroke="#000" stroke-width="0.4">#</text>
<text x="280.80" y="578.98" font-size="15.4" text-anchor="middle" stroke="#000" stroke-width="0.4">#</text>
<text x="150.10" y="692.19" font-size="15.8" text-anchor="middle" stroke="#000" stroke-width="0.45">+</text>
<text x="202.60" y="674.29" font-size="15.8" text-anchor="middle" stroke="#000" stroke-width="0.45">+</text>
<text x="237.50" y="720.19" font-size="15.8" text-anchor="middle" stroke="#000" stroke-width="0.45">+</text>
<text x="281.00" y="721.89" font-size="15.8" text-anchor="middle" stroke="#000" stroke-width="0.45">+</text>
<line x1="41.30" y1="863.55" x2="41.30" y2="1126.45" stroke="#000" stroke-width="1.9"/>
<line x1="40.35" y1="1125.50" x2="303.30" y2="1125.50" stroke="#000" stroke-width="1.9"/>
<line x1="35.40" y1="1125.50" x2="41.30" y2="1125.50" stroke="#000" stroke-width="1.9"/>
<text x="28.85" y="1129.15" font-size="10.9" font-weight="bold" textLength="5.15" lengthAdjust="spacingAndGlyphs">0</text>
<line x1="35.40" y1="1096.50" x2="41.30" y2="1096.50" stroke="#000" stroke-width="1.9"/>
<text x="28.85" y="1100.15" font-size="10.9" font-weight="bold" textLength="5.15" lengthAdjust="spacingAndGlyphs">1</text>
<line x1="35.40" y1="1067.50" x2="41.30" y2="1067.50" stroke="#000" stroke-width="1.9"/>
<text x="28.85" y="1071.15" font-size="10.9" font-weight="bold" textLength="5.15" lengthAdjust="spacingAndGlyphs">2</text>
<line x1="35.40" y1="1038.50" x2="41.30" y2="1038.50" stroke="#000" stroke-width="1.9"/>
<text x="28.85" y="1042.15" font-size="10.9" font-weight="bold" textLength="5.15" lengthAdjust="spacingAndGlyphs">3</text>
<line x1="35.40" y1="1009.50" x2="41.30" y2="1009.50" stroke="#000" stroke-width="1.9"/>
<text x="28.85" y="1013.15" font-size="10.9" font-weight="bold" textLength="5.15" lengthAdjust="spacingAndGlyphs">4</text>
<line x1="35.40" y1="980.50" x2="41.30" y2="980.50" stroke="#000" stroke-width="1.9"/>
<text x="28.85" y="984.15" font-size="10.9" font-weight="bold" textLength="5.15" lengthAdjust="spacingAndGlyphs">5</text>
<line x1="35.40" y1="951.50" x2="41.30" y2="951.50" stroke="#000" stroke-width="1.9"/>
<text x="28.85" y="955.15" font-size="10.9" font-weight="bold" textLength="5.15" lengthAdjust="spacingAndGlyphs">6</text>
<line x1="35.40" y1="922.50" x2="41.30" y2="922.50" stroke="#000" stroke-width="1.9"/>
<text x="28.85" y="926.15" font-size="10.9" font-weight="bold" textLength="5.15" lengthAdjust="spacingAndGlyphs">7</text>
<line x1="35.40" y1="893.50" x2="41.30" y2="893.50" stroke="#000" stroke-width="1.9"/>
<text x="28.85" y="897.15" font-size="10.9" font-weight="bold" textLength="5.15" lengthAdjust="spacingAndGlyphs">8</text>
<line x1="35.40" y1="864.50" x2="41.30" y2="864.50" stroke="#000" stroke-width="1.9"/>
<text x="28.85" y="868.15" font-size="10.9" font-weight="bold" textLength="5.15" lengthAdjust="spacingAndGlyphs">9</text>
<line x1="62.80" y1="1125.50" x2="62.80" y2="1131.70" stroke="#000" stroke-width="1.9"/>
<text x="62.80" y="1141.70" font-size="9.9" font-weight="bold" text-anchor="middle">baseline</text>
<line x1="106.40" y1="1125.50" x2="106.40" y2="1131.70" stroke="#000" stroke-width="1.9"/>
<text x="103.68" y="1141.60" font-size="10.4" font-weight="bold" textLength="5.44" lengthAdjust="spacingAndGlyphs">0</text>
<line x1="150.00" y1="1125.50" x2="150.00" y2="1131.70" stroke="#000" stroke-width="1.9"/>
<text x="143.21" y="1141.60" font-size="10.4" font-weight="bold" textLength="13.59" lengthAdjust="spacingAndGlyphs">1.5</text>
<line x1="193.70" y1="1125.50" x2="193.70" y2="1131.70" stroke="#000" stroke-width="1.9"/>
<text x="186.91" y="1141.60" font-size="10.4" font-weight="bold" textLength="13.59" lengthAdjust="spacingAndGlyphs">3.5</text>
<line x1="237.00" y1="1125.50" x2="237.00" y2="1131.70" stroke="#000" stroke-width="1.9"/>
<text x="230.21" y="1141.60" font-size="10.4" font-weight="bold" textLength="13.59" lengthAdjust="spacingAndGlyphs">5.5</text>
<line x1="280.60" y1="1125.50" x2="280.60" y2="1131.70" stroke="#000" stroke-width="1.9"/>
<text x="273.81" y="1141.60" font-size="10.4" font-weight="bold" textLength="13.59" lengthAdjust="spacingAndGlyphs">7.5</text>
<text x="111.34" y="1159.50" font-size="11.0" font-weight="bold" textLength="120.80" lengthAdjust="spacingAndGlyphs" stroke-width="0.3">Time after treatment (h)</text>
<text transform="translate(21.40 1058.00) rotate(-90)" x="0" y="0" font-size="15.0" font-weight="bold" textLength="125.24" lengthAdjust="spacingAndGlyphs" stroke-width="0.3">Cumulative score</text>
<text x="53.30" y="855.80" font-size="17.8" font-weight="bold" text-anchor="middle">(E)</text>
<line x1="76.60" y1="805.90" x2="90.80" y2="805.90" stroke="#000" stroke-width="1.4"/>
<path d="M83.70 800.23L88.74 805.90L83.70 811.57L78.66 805.90Z"/>
<text x="98.28" y="809.50" font-size="11.1" textLength="27.38" lengthAdjust="spacingAndGlyphs">Sham</text>
<line x1="76.60" y1="820.90" x2="90.80" y2="820.90" stroke="#000" stroke-width="1.4"/>
<circle cx="83.70" cy="820.90" r="5.62"/>
<text x="98.24" y="824.30" font-size="11.1" textLength="19.29" lengthAdjust="spacingAndGlyphs">CCI</text>
<line x1="77.10" y1="835.70" x2="91.30" y2="835.70" stroke="#000" stroke-width="1.4"/>
<rect x="78.79" y="830.29" width="10.82" height="10.82"/>
<text x="98.85" y="839.50" font-size="11.1" textLength="186.30" lengthAdjust="spacingAndGlyphs">CCI- nicorandil (150 mg/kg, twice, PO)</text>
<line x1="77.70" y1="851.50" x2="91.90" y2="851.50" stroke="#000" stroke-width="1.4"/>
<path d="M84.80 846.25L90.78 856.75L78.81 856.75Z"/>
<text x="99.46" y="855.30" font-size="11.1" textLength="228.75" lengthAdjust="spacingAndGlyphs">CCI- nicorandil+sildenafil (2.5 mg/kg, twice, I.P)</text>
<line x1="77.70" y1="867.30" x2="91.90" y2="867.30" stroke="#000" stroke-width="1.4"/>
<path d="M84.80 872.55L90.78 862.05L78.81 862.05Z"/>
<text x="98.85" y="871.80" font-size="11.1" textLength="174.94" lengthAdjust="spacingAndGlyphs">CCI-sildenafil (2.5 mg/kg, twice, I.P)</text>
<path d="M62.80 1047.20 L106.40 1030.60 L150.00 1005.80 L193.70 1063.30 L237.00 1042.80 L280.60 1034.40" fill="none" stroke="#000" stroke-width="1.4" stroke-linejoin="round"/>
<line x1="106.40" y1="1030.60" x2="106.40" y2="1005.80" stroke="#000" stroke-width="1.4"/>
<line x1="101.10" y1="1005.80" x2="111.70" y2="1005.80" stroke="#000" stroke-width="1.4"/>
<line x1="150.00" y1="1005.80" x2="150.00" y2="983.30" stroke="#000" stroke-width="1.4"/>
<line x1="144.70" y1="983.30" x2="155.30" y2="983.30" stroke="#000" stroke-width="1.4"/>
<line x1="193.70" y1="1063.30" x2="193.70" y2="1050.40" stroke="#000" stroke-width="1.4"/>
<line x1="188.40" y1="1050.40" x2="199.00" y2="1050.40" stroke="#000" stroke-width="1.4"/>
<line x1="237.00" y1="1042.80" x2="237.00" y2="1032.60" stroke="#000" stroke-width="1.4"/>
<line x1="231.70" y1="1032.60" x2="242.30" y2="1032.60" stroke="#000" stroke-width="1.4"/>
<line x1="280.60" y1="1034.40" x2="280.60" y2="1013.60" stroke="#000" stroke-width="1.4"/>
<line x1="275.30" y1="1013.60" x2="285.90" y2="1013.60" stroke="#000" stroke-width="1.4"/>
<path d="M62.80 1041.80L67.60 1047.20L62.80 1052.60L58.00 1047.20Z"/>
<path d="M106.40 1025.20L111.20 1030.60L106.40 1036.00L101.60 1030.60Z"/>
<path d="M150.00 1000.40L154.80 1005.80L150.00 1011.20L145.20 1005.80Z"/>
<path d="M193.70 1057.90L198.50 1063.30L193.70 1068.70L188.90 1063.30Z"/>
<path d="M237.00 1037.40L241.80 1042.80L237.00 1048.20L232.20 1042.80Z"/>
<path d="M280.60 1029.00L285.40 1034.40L280.60 1039.80L275.80 1034.40Z"/>
<path d="M62.80 1096.80 L106.40 908.10 L150.00 919.00 L193.70 915.20 L237.00 929.80 L280.60 944.40" fill="none" stroke="#000" stroke-width="1.4" stroke-linejoin="round"/>
<line x1="106.40" y1="908.10" x2="106.40" y2="894.90" stroke="#000" stroke-width="1.4"/>
<line x1="101.10" y1="894.90" x2="111.70" y2="894.90" stroke="#000" stroke-width="1.4"/>
<line x1="150.00" y1="919.00" x2="150.00" y2="903.20" stroke="#000" stroke-width="1.4"/>
<line x1="144.70" y1="903.20" x2="155.30" y2="903.20" stroke="#000" stroke-width="1.4"/>
<line x1="193.70" y1="915.20" x2="193.70" y2="899.70" stroke="#000" stroke-width="1.4"/>
<line x1="188.40" y1="899.70" x2="199.00" y2="899.70" stroke="#000" stroke-width="1.4"/>
<line x1="237.00" y1="929.80" x2="237.00" y2="917.00" stroke="#000" stroke-width="1.4"/>
<line x1="231.70" y1="917.00" x2="242.30" y2="917.00" stroke="#000" stroke-width="1.4"/>
<line x1="280.60" y1="944.40" x2="280.60" y2="927.40" stroke="#000" stroke-width="1.4"/>
<line x1="275.30" y1="927.40" x2="285.90" y2="927.40" stroke="#000" stroke-width="1.4"/>
<circle cx="62.80" cy="1096.80" r="5.35"/>
<circle cx="106.40" cy="908.10" r="5.35"/>
<circle cx="150.00" cy="919.00" r="5.35"/>
<circle cx="193.70" cy="915.20" r="5.35"/>
<circle cx="237.00" cy="929.80" r="5.35"/>
<circle cx="280.60" cy="944.40" r="5.35"/>
<path d="M62.80 1082.20 L106.40 941.80 L150.00 1067.60 L193.70 1082.20 L237.00 1061.80 L280.60 1050.10" fill="none" stroke="#000" stroke-width="1.4" stroke-linejoin="round"/>
<line x1="62.80" y1="1082.20" x2="62.80" y2="1062.70" stroke="#000" stroke-width="1.4"/>
<line x1="57.50" y1="1062.70" x2="68.10" y2="1062.70" stroke="#000" stroke-width="1.4"/>
<line x1="150.00" y1="1067.60" x2="150.00" y2="1045.80" stroke="#000" stroke-width="1.4"/>
<line x1="144.70" y1="1045.80" x2="155.30" y2="1045.80" stroke="#000" stroke-width="1.4"/>
<line x1="193.70" y1="1082.20" x2="193.70" y2="1064.00" stroke="#000" stroke-width="1.4"/>
<line x1="188.40" y1="1064.00" x2="199.00" y2="1064.00" stroke="#000" stroke-width="1.4"/>
<line x1="237.00" y1="1061.80" x2="237.00" y2="1018.00" stroke="#000" stroke-width="1.4"/>
<line x1="231.70" y1="1018.00" x2="242.30" y2="1018.00" stroke="#000" stroke-width="1.4"/>
<line x1="280.60" y1="1050.10" x2="280.60" y2="1014.50" stroke="#000" stroke-width="1.4"/>
<line x1="275.30" y1="1014.50" x2="285.90" y2="1014.50" stroke="#000" stroke-width="1.4"/>
<rect x="57.65" y="1077.05" width="10.30" height="10.30"/>
<rect x="101.25" y="936.65" width="10.30" height="10.30"/>
<rect x="144.85" y="1062.45" width="10.30" height="10.30"/>
<rect x="188.55" y="1077.05" width="10.30" height="10.30"/>
<rect x="231.85" y="1056.65" width="10.30" height="10.30"/>
<rect x="275.45" y="1044.95" width="10.30" height="10.30"/>
<path d="M62.80 1032.60 L106.40 888.10 L150.00 951.80 L193.70 993.20 L237.00 1016.60 L280.60 1004.00" fill="none" stroke="#000" stroke-width="1.4" stroke-linejoin="round"/>
<line x1="62.80" y1="1032.60" x2="62.80" y2="1021.80" stroke="#000" stroke-width="1.4"/>
<line x1="57.50" y1="1021.80" x2="68.10" y2="1021.80" stroke="#000" stroke-width="1.4"/>
<line x1="106.40" y1="888.10" x2="106.40" y2="876.90" stroke="#000" stroke-width="1.4"/>
<line x1="101.10" y1="876.90" x2="111.70" y2="876.90" stroke="#000" stroke-width="1.4"/>
<line x1="150.00" y1="951.80" x2="150.00" y2="942.40" stroke="#000" stroke-width="1.4"/>
<line x1="144.70" y1="942.40" x2="155.30" y2="942.40" stroke="#000" stroke-width="1.4"/>
<line x1="193.70" y1="993.20" x2="193.70" y2="980.60" stroke="#000" stroke-width="1.4"/>
<line x1="188.40" y1="980.60" x2="199.00" y2="980.60" stroke="#000" stroke-width="1.4"/>
<line x1="237.00" y1="1016.60" x2="237.00" y2="999.00" stroke="#000" stroke-width="1.4"/>
<line x1="231.70" y1="999.00" x2="242.30" y2="999.00" stroke="#000" stroke-width="1.4"/>
<line x1="280.60" y1="1004.00" x2="280.60" y2="993.20" stroke="#000" stroke-width="1.4"/>
<line x1="275.30" y1="993.20" x2="285.90" y2="993.20" stroke="#000" stroke-width="1.4"/>
<path d="M62.80 1027.60L68.50 1037.60L57.10 1037.60Z"/>
<path d="M106.40 883.10L112.10 893.10L100.70 893.10Z"/>
<path d="M150.00 946.80L155.70 956.80L144.30 956.80Z"/>
<path d="M193.70 988.20L199.40 998.20L188.00 998.20Z"/>
<path d="M237.00 1011.60L242.70 1021.60L231.30 1021.60Z"/>
<path d="M280.60 999.00L286.30 1009.00L274.90 1009.00Z"/>
<path d="M62.80 1055.40 L106.40 933.60 L150.00 951.20 L193.70 956.00 L237.00 963.00 L280.60 974.80" fill="none" stroke="#000" stroke-width="1.4" stroke-linejoin="round"/>
<line x1="62.80" y1="1055.40" x2="62.80" y2="1024.40" stroke="#000" stroke-width="1.4"/>
<line x1="57.50" y1="1024.40" x2="68.10" y2="1024.40" stroke="#000" stroke-width="1.4"/>
<line x1="106.40" y1="933.60" x2="106.40" y2="894.90" stroke="#000" stroke-width="1.4"/>
<line x1="101.10" y1="894.90" x2="111.70" y2="894.90" stroke="#000" stroke-width="1.4"/>
<line x1="150.00" y1="951.20" x2="150.00" y2="933.30" stroke="#000" stroke-width="1.4"/>
<line x1="144.70" y1="933.30" x2="155.30" y2="933.30" stroke="#000" stroke-width="1.4"/>
<line x1="237.00" y1="963.00" x2="237.00" y2="948.50" stroke="#000" stroke-width="1.4"/>
<line x1="231.70" y1="948.50" x2="242.30" y2="948.50" stroke="#000" stroke-width="1.4"/>
<line x1="280.60" y1="974.80" x2="280.60" y2="949.70" stroke="#000" stroke-width="1.4"/>
<line x1="275.30" y1="949.70" x2="285.90" y2="949.70" stroke="#000" stroke-width="1.4"/>
<path d="M62.80 1060.40L68.50 1050.40L57.10 1050.40Z"/>
<path d="M106.40 938.60L112.10 928.60L100.70 928.60Z"/>
<path d="M150.00 956.20L155.70 946.20L144.30 946.20Z"/>
<path d="M193.70 961.00L199.40 951.00L188.00 951.00Z"/>
<path d="M237.00 968.00L242.70 958.00L231.30 958.00Z"/>
<path d="M280.60 979.80L286.30 969.80L274.90 969.80Z"/>
<text x="95.80" y="911.55" font-size="17" text-anchor="middle" stroke="#000" stroke-width="0.5">*</text>
<text x="150.10" y="906.45" font-size="17" text-anchor="middle" stroke="#000" stroke-width="0.5">*</text>
<text x="193.80" y="902.95" font-size="17" text-anchor="middle" stroke="#000" stroke-width="0.5">*</text>
<text x="237.00" y="918.35" font-size="17" text-anchor="middle" stroke="#000" stroke-width="0.5">*</text>
<text x="280.80" y="930.65" font-size="17" text-anchor="middle" stroke="#000" stroke-width="0.5">*</text>
<text x="150.10" y="971.28" font-size="15.4" text-anchor="middle" stroke="#000" stroke-width="0.4">#</text>
<text x="193.80" y="978.68" font-size="15.4" text-anchor="middle" stroke="#000" stroke-width="0.4">#</text>
<text x="150.10" y="1085.19" font-size="15.8" text-anchor="middle" stroke="#000" stroke-width="0.45">+</text>
<text x="193.80" y="1099.19" font-size="15.8" text-anchor="middle" stroke="#000" stroke-width="0.45">+</text>
<text x="237.00" y="1079.69" font-size="15.8" text-anchor="middle" stroke="#000" stroke-width="0.45">+</text>
<text x="280.80" y="1067.69" font-size="15.8" text-anchor="middle" stroke="#000" stroke-width="0.45">+</text>
<line x1="418.00" y1="155.30" x2="418.00" y2="358.40" stroke="#111" stroke-width="1.5"/>
<text x="402.23" y="362.20" font-size="12.7" font-weight="bold" textLength="7.18" lengthAdjust="spacingAndGlyphs" stroke-width="0.4">0</text>
<line x1="411.55" y1="307.30" x2="418.55" y2="307.30" stroke="#000" stroke-width="1.7"/>
<text x="395.61" y="311.80" font-size="12.7" font-weight="bold" textLength="13.74" lengthAdjust="spacingAndGlyphs" stroke-width="0.4">10</text>
<line x1="411.55" y1="256.90" x2="418.55" y2="256.90" stroke="#000" stroke-width="1.7"/>
<text x="395.99" y="261.40" font-size="12.7" font-weight="bold" textLength="13.35" lengthAdjust="spacingAndGlyphs" stroke-width="0.4">20</text>
<line x1="411.55" y1="206.50" x2="418.55" y2="206.50" stroke="#000" stroke-width="1.7"/>
<text x="396.11" y="211.00" font-size="12.7" font-weight="bold" textLength="13.22" lengthAdjust="spacingAndGlyphs" stroke-width="0.4">30</text>
<line x1="411.55" y1="156.10" x2="418.55" y2="156.10" stroke="#000" stroke-width="1.7"/>
<text x="396.23" y="160.60" font-size="12.7" font-weight="bold" textLength="13.10" lengthAdjust="spacingAndGlyphs" stroke-width="0.4">40</text>
<text transform="translate(371.85 343.10) rotate(-90)" x="0" y="0" font-size="13.8" font-weight="bold" textLength="176.52" lengthAdjust="spacingAndGlyphs" stroke-width="0.3">Area under the curve (AUC)</text>
<text transform="translate(388.65 314.07) rotate(-90)" x="0" y="0" font-size="13.8" font-weight="bold" textLength="118.62" lengthAdjust="spacingAndGlyphs" stroke-width="0.3">(cumulative score)</text>
<text x="422.20" y="135.90" font-size="18.2" font-weight="bold" text-anchor="middle">(B)</text>
<line x1="440.00" y1="286.70" x2="440.00" y2="275.00" stroke="#000" stroke-width="0.85"/>
<line x1="431.20" y1="275.00" x2="448.80" y2="275.00" stroke="#000" stroke-width="0.85"/>
<rect x="423.25" y="287.65" width="33.50" height="70.05" fill="#808080" stroke="#000" stroke-width="1.9"/>
<line x1="479.45" y1="193.30" x2="479.45" y2="185.10" stroke="#000" stroke-width="0.85"/>
<line x1="470.65" y1="185.10" x2="488.25" y2="185.10" stroke="#000" stroke-width="0.85"/>
<rect x="462.45" y="194.25" width="34.00" height="163.45" fill="#000" stroke="#000" stroke-width="1.9"/>
<line x1="519.25" y1="285.80" x2="519.25" y2="275.60" stroke="#000" stroke-width="0.85"/>
<line x1="510.45" y1="275.60" x2="528.05" y2="275.60" stroke="#000" stroke-width="0.85"/>
<rect x="502.45" y="286.75" width="33.60" height="70.95" fill="#fff" stroke="#000" stroke-width="1.9"/>
<line x1="558.45" y1="240.90" x2="558.45" y2="234.50" stroke="#000" stroke-width="0.85"/>
<line x1="549.65" y1="234.50" x2="567.25" y2="234.50" stroke="#000" stroke-width="0.85"/>
<rect x="541.45" y="241.85" width="34.00" height="115.85" fill="url(#pDot)" stroke="#000" stroke-width="1.9"/>
<line x1="598.15" y1="208.50" x2="598.15" y2="194.60" stroke="#000" stroke-width="0.85"/>
<line x1="589.35" y1="194.60" x2="606.95" y2="194.60" stroke="#000" stroke-width="0.85"/>
<rect x="581.15" y="209.45" width="34.00" height="148.25" fill="url(#pGrid)" stroke="#000" stroke-width="1.9"/>
<rect x="611.10" y="208.50" width="5.0" height="149.20" fill="#000"/>
<line x1="411.55" y1="357.60" x2="619.90" y2="357.60" stroke="#000" stroke-width="1.5"/>
<text x="480.10" y="185.03" font-size="22" text-anchor="middle" stroke="#000" stroke-width="0.4">*</text>
<text x="519.20" y="272.70" font-size="20" text-anchor="middle" stroke="#000" stroke-width="0.55">+</text>
<text x="558.80" y="231.65" font-size="18.8" text-anchor="middle" stroke="#000" stroke-width="0.5">#</text>
<rect x="438.10" y="60.10" width="14.80" height="6.20" fill="#808080" stroke="#000" stroke-width="2"/>
<rect x="438.10" y="74.90" width="15.10" height="5.90" fill="#000" stroke="#000" stroke-width="2"/>
<rect x="437.40" y="99.00" width="14.80" height="6.20" fill="#fff" stroke="#000" stroke-width="2"/>
<rect x="437.50" y="128.10" width="16.70" height="7.90" fill="#000"/>
<rect x="439.50" y="130.10" width="12.70" height="3.90" fill="#fff"/>
<line x1="440.70" y1="132.95" x2="451.00" y2="132.95" stroke="#999" stroke-width="0.9" stroke-dasharray="1 1.2"/>
<rect x="437.50" y="151.10" width="16.70" height="8.10" fill="#000"/>
<rect x="440.10" y="153.75" width="1.6" height="2.8" fill="#fff"/>
<rect x="444.90" y="153.75" width="4.0" height="2.8" fill="#fff"/>
<rect x="451.10" y="153.75" width="0.9" height="2.8" fill="#fff"/>
<text x="463.55" y="68.30" font-size="13.6" textLength="33.85" lengthAdjust="spacingAndGlyphs">Sham</text>
<text x="463.91" y="83.10" font-size="13.6" textLength="23.76" lengthAdjust="spacingAndGlyphs">CCI</text>
<text x="462.74" y="99.00" font-size="13.6" textLength="153.69" lengthAdjust="spacingAndGlyphs">CC-nicorandil (150 mg/kg,</text>
<text x="463.26" y="114.60" font-size="13.6" textLength="63.89" lengthAdjust="spacingAndGlyphs">twice, PO)</text>
<text x="463.95" y="129.60" font-size="13.6" textLength="152.33" lengthAdjust="spacingAndGlyphs">CCI-nicorandil+ L-arginine</text>
<text x="463.37" y="144.80" font-size="13.6" textLength="97.90" lengthAdjust="spacingAndGlyphs">(500 mg/kg, I.P)</text>
<text x="463.93" y="159.80" font-size="13.6" textLength="190.29" lengthAdjust="spacingAndGlyphs">CCI- L-arginine (500 mg/kg, I.P)</text>
<line x1="418.00" y1="532.70" x2="418.00" y2="735.20" stroke="#111" stroke-width="1.5"/>
<text x="402.23" y="739.00" font-size="12.7" font-weight="bold" textLength="7.18" lengthAdjust="spacingAndGlyphs" stroke-width="0.4">0</text>
<line x1="411.55" y1="684.25" x2="418.55" y2="684.25" stroke="#000" stroke-width="1.7"/>
<text x="395.61" y="688.75" font-size="12.7" font-weight="bold" textLength="13.74" lengthAdjust="spacingAndGlyphs" stroke-width="0.4">10</text>
<line x1="411.55" y1="634.00" x2="418.55" y2="634.00" stroke="#000" stroke-width="1.7"/>
<text x="395.99" y="638.50" font-size="12.7" font-weight="bold" textLength="13.35" lengthAdjust="spacingAndGlyphs" stroke-width="0.4">20</text>
<line x1="411.55" y1="583.75" x2="418.55" y2="583.75" stroke="#000" stroke-width="1.7"/>
<text x="396.11" y="588.25" font-size="12.7" font-weight="bold" textLength="13.22" lengthAdjust="spacingAndGlyphs" stroke-width="0.4">30</text>
<line x1="411.55" y1="533.50" x2="418.55" y2="533.50" stroke="#000" stroke-width="1.7"/>
<text x="396.23" y="538.00" font-size="12.7" font-weight="bold" textLength="13.10" lengthAdjust="spacingAndGlyphs" stroke-width="0.4">40</text>
<text transform="translate(371.85 719.90) rotate(-90)" x="0" y="0" font-size="13.8" font-weight="bold" textLength="176.52" lengthAdjust="spacingAndGlyphs" stroke-width="0.3">Area under the curve (AUC)</text>
<text transform="translate(388.65 690.87) rotate(-90)" x="0" y="0" font-size="13.8" font-weight="bold" textLength="118.62" lengthAdjust="spacingAndGlyphs" stroke-width="0.3">(cumulative score)</text>
<text x="415.50" y="514.70" font-size="18.2" font-weight="bold" text-anchor="middle">(D)</text>
<line x1="440.00" y1="672.80" x2="440.00" y2="662.60" stroke="#000" stroke-width="0.85"/>
<line x1="431.20" y1="662.60" x2="448.80" y2="662.60" stroke="#000" stroke-width="0.85"/>
<rect x="423.25" y="673.75" width="33.50" height="60.75" fill="#808080" stroke="#000" stroke-width="1.9"/>
<line x1="479.45" y1="564.70" x2="479.45" y2="556.90" stroke="#000" stroke-width="0.85"/>
<line x1="470.65" y1="556.90" x2="488.25" y2="556.90" stroke="#000" stroke-width="0.85"/>
<rect x="462.45" y="565.65" width="34.00" height="168.85" fill="#000" stroke="#000" stroke-width="1.9"/>
<line x1="519.25" y1="663.40" x2="519.25" y2="650.70" stroke="#000" stroke-width="0.85"/>
<line x1="510.45" y1="650.70" x2="528.05" y2="650.70" stroke="#000" stroke-width="0.85"/>
<rect x="502.45" y="664.35" width="33.60" height="70.15" fill="#fff" stroke="#000" stroke-width="1.9"/>
<line x1="558.45" y1="592.10" x2="558.45" y2="583.40" stroke="#000" stroke-width="0.85"/>
<line x1="549.65" y1="583.40" x2="567.25" y2="583.40" stroke="#000" stroke-width="0.85"/>
<rect x="541.45" y="593.05" width="34.00" height="141.45" fill="url(#pHatch)" stroke="#000" stroke-width="1.9"/>
<line x1="598.15" y1="565.50" x2="598.15" y2="557.00" stroke="#000" stroke-width="0.85"/>
<line x1="589.35" y1="557.00" x2="606.95" y2="557.00" stroke="#000" stroke-width="0.85"/>
<rect x="581.15" y="566.45" width="34.00" height="168.05" fill="url(#pVert)" stroke="#000" stroke-width="1.9"/>
<line x1="411.55" y1="734.40" x2="619.90" y2="734.40" stroke="#000" stroke-width="1.5"/>
<text x="480.00" y="557.83" font-size="22" text-anchor="middle" stroke="#000" stroke-width="0.4">*</text>
<text x="519.20" y="648.00" font-size="20" text-anchor="middle" stroke="#000" stroke-width="0.55">+</text>
<text x="559.50" y="578.45" font-size="18.8" text-anchor="middle" stroke="#000" stroke-width="0.5">#</text>
<rect x="429.90" y="434.80" width="15.00" height="5.90" fill="#808080" stroke="#000" stroke-width="2"/>
<rect x="429.90" y="453.90" width="15.30" height="5.50" fill="#000" stroke="#000" stroke-width="2"/>
<rect x="429.90" y="476.00" width="15.00" height="5.90" fill="#fff" stroke="#000" stroke-width="2"/>
<rect x="428.40" y="506.60" width="16.30" height="7.90" fill="#000"/>
<rect x="430.70" y="509.05" width="2.4" height="3.0" fill="#fff"/>
<rect x="435.15" y="509.05" width="2.4" height="3.0" fill="#fff"/>
<rect x="439.60" y="509.05" width="2.4" height="3.0" fill="#fff"/>
<rect x="428.90" y="530.80" width="17.00" height="7.40" fill="#000"/>
<rect x="431.40" y="532.80" width="3.0" height="3.40" fill="#fff"/>
<rect x="435.85" y="532.80" width="3.0" height="3.40" fill="#fff"/>
<rect x="440.30" y="532.80" width="3.0" height="3.40" fill="#fff"/>
<text x="455.51" y="443.10" font-size="13.6" textLength="31.94" lengthAdjust="spacingAndGlyphs">sham</text>
<text x="455.71" y="460.70" font-size="13.6" textLength="23.76" lengthAdjust="spacingAndGlyphs">CCI</text>
<text x="455.23" y="475.80" font-size="13.6" textLength="154.60" lengthAdjust="spacingAndGlyphs">CCI-nicorandil (150mg/kg,</text>
<text x="455.76" y="491.80" font-size="13.6" textLength="60.23" lengthAdjust="spacingAndGlyphs">twice,PO)</text>
<text x="454.45" y="507.70" font-size="13.6" textLength="178.92" lengthAdjust="spacingAndGlyphs">CCI-nicorandil+methylene blue</text>
<text x="453.87" y="523.70" font-size="13.6" textLength="90.76" lengthAdjust="spacingAndGlyphs">(10 mg/kg, I.P)</text>
<text x="455.23" y="539.60" font-size="13.6" textLength="213.97" lengthAdjust="spacingAndGlyphs">CCI- methylene blue (10 mg/kg, I.P)</text>
<line x1="419.25" y1="906.20" x2="419.25" y2="1111.70" stroke="#111" stroke-width="1.5"/>
<text x="403.48" y="1115.50" font-size="12.7" font-weight="bold" textLength="7.18" lengthAdjust="spacingAndGlyphs" stroke-width="0.4">0</text>
<line x1="412.80" y1="1060.00" x2="419.80" y2="1060.00" stroke="#000" stroke-width="1.7"/>
<text x="396.86" y="1064.50" font-size="12.7" font-weight="bold" textLength="13.74" lengthAdjust="spacingAndGlyphs" stroke-width="0.4">10</text>
<line x1="412.80" y1="1009.00" x2="419.80" y2="1009.00" stroke="#000" stroke-width="1.7"/>
<text x="397.24" y="1013.50" font-size="12.7" font-weight="bold" textLength="13.35" lengthAdjust="spacingAndGlyphs" stroke-width="0.4">20</text>
<line x1="412.80" y1="958.00" x2="419.80" y2="958.00" stroke="#000" stroke-width="1.7"/>
<text x="397.36" y="962.50" font-size="12.7" font-weight="bold" textLength="13.22" lengthAdjust="spacingAndGlyphs" stroke-width="0.4">30</text>
<line x1="412.80" y1="907.00" x2="419.80" y2="907.00" stroke="#000" stroke-width="1.7"/>
<text x="397.48" y="911.50" font-size="12.7" font-weight="bold" textLength="13.10" lengthAdjust="spacingAndGlyphs" stroke-width="0.4">40</text>
<text transform="translate(373.10 1096.40) rotate(-90)" x="0" y="0" font-size="13.8" font-weight="bold" textLength="176.52" lengthAdjust="spacingAndGlyphs" stroke-width="0.3">Area under the curve (AUC)</text>
<text transform="translate(389.90 1067.37) rotate(-90)" x="0" y="0" font-size="13.8" font-weight="bold" textLength="118.62" lengthAdjust="spacingAndGlyphs" stroke-width="0.3">(cumulative score)</text>
<text x="421.20" y="888.90" font-size="18.2" font-weight="bold" text-anchor="middle">(F)</text>
<line x1="441.00" y1="1033.50" x2="441.00" y2="1020.90" stroke="#000" stroke-width="0.85"/>
<line x1="432.20" y1="1020.90" x2="449.80" y2="1020.90" stroke="#000" stroke-width="0.85"/>
<rect x="424.15" y="1034.45" width="33.70" height="76.55" fill="#808080" stroke="#000" stroke-width="1.9"/>
<line x1="481.30" y1="947.00" x2="481.30" y2="938.50" stroke="#000" stroke-width="0.85"/>
<line x1="472.50" y1="938.50" x2="490.10" y2="938.50" stroke="#000" stroke-width="0.85"/>
<rect x="464.15" y="947.95" width="34.30" height="163.05" fill="#000" stroke="#000" stroke-width="1.9"/>
<line x1="521.25" y1="1033.50" x2="521.25" y2="1020.90" stroke="#000" stroke-width="0.85"/>
<line x1="512.45" y1="1020.90" x2="530.05" y2="1020.90" stroke="#000" stroke-width="0.85"/>
<rect x="504.45" y="1034.45" width="33.60" height="76.55" fill="#fff" stroke="#000" stroke-width="1.9"/>
<line x1="561.20" y1="975.10" x2="561.20" y2="972.40" stroke="#000" stroke-width="0.85"/>
<line x1="552.40" y1="972.40" x2="570.00" y2="972.40" stroke="#000" stroke-width="0.85"/>
<rect x="544.35" y="976.05" width="33.70" height="134.95" fill="url(#pDiag)" stroke="#000" stroke-width="1.9"/>
<line x1="601.35" y1="969.70" x2="601.35" y2="961.50" stroke="#000" stroke-width="0.85"/>
<line x1="592.55" y1="961.50" x2="610.15" y2="961.50" stroke="#000" stroke-width="0.85"/>
<rect x="584.35" y="970.65" width="34.00" height="140.35" fill="url(#pBrick)" stroke="#000" stroke-width="1.9"/>
<line x1="412.80" y1="1110.90" x2="623.10" y2="1110.90" stroke="#000" stroke-width="1.5"/>
<text x="481.30" y="939.33" font-size="22" text-anchor="middle" stroke="#000" stroke-width="0.4">*</text>
<text x="521.50" y="1018.30" font-size="20" text-anchor="middle" stroke="#000" stroke-width="0.55">+</text>
<text x="562.30" y="968.05" font-size="18.8" text-anchor="middle" stroke="#000" stroke-width="0.5">#</text>
<rect x="438.10" y="813.70" width="14.80" height="6.10" fill="#808080" stroke="#000" stroke-width="2"/>
<rect x="436.70" y="828.90" width="15.50" height="5.90" fill="#000" stroke="#000" stroke-width="2"/>
<rect x="437.40" y="851.30" width="14.80" height="6.60" fill="#fff" stroke="#000" stroke-width="2"/>
<rect x="435.20" y="880.30" width="17.50" height="7.90" fill="#000"/>
<path d="M438.40 886.15l3.4 -3.8h2.6l-3.4 3.8z" fill="#fff"/>
<path d="M446.40 886.15l3.4 -3.8h1.0v3.8z" fill="#fff"/>
<rect x="435.20" y="902.80" width="16.70" height="7.70" fill="#000"/>
<line x1="438.20" y1="905.85" x2="448.90" y2="905.85" stroke="#fff" stroke-width="1.0" stroke-dasharray="2.2 1"/>
<line x1="437.60" y1="907.65" x2="449.50" y2="907.65" stroke="#ddd" stroke-width="0.9" stroke-dasharray="1.6 1"/>
<text x="463.54" y="821.80" font-size="13.6" textLength="34.59" lengthAdjust="spacingAndGlyphs">Sham</text>
<text x="462.70" y="836.90" font-size="13.6" textLength="24.20" lengthAdjust="spacingAndGlyphs">CCI</text>
<text x="463.03" y="852.00" font-size="13.6" textLength="155.91" lengthAdjust="spacingAndGlyphs">CC-nicorandil (150 mg/kg,</text>
<text x="463.26" y="867.40" font-size="13.6" textLength="64.81" lengthAdjust="spacingAndGlyphs">twice, PO)</text>
<text x="462.24" y="881.40" font-size="13.6" textLength="143.46" lengthAdjust="spacingAndGlyphs">CCI-nicorandil+sildenafil</text>
<text x="461.76" y="897.00" font-size="13.6" textLength="135.57" lengthAdjust="spacingAndGlyphs">(2.5 mg/kg, twice, I.P)</text>
<text x="462.22" y="911.60" font-size="13.6" textLength="221.41" lengthAdjust="spacingAndGlyphs">CCI- sildenafil (2.5 mg/kg, twice, I.P)</text>
</g>
</svg>
</body></html>
